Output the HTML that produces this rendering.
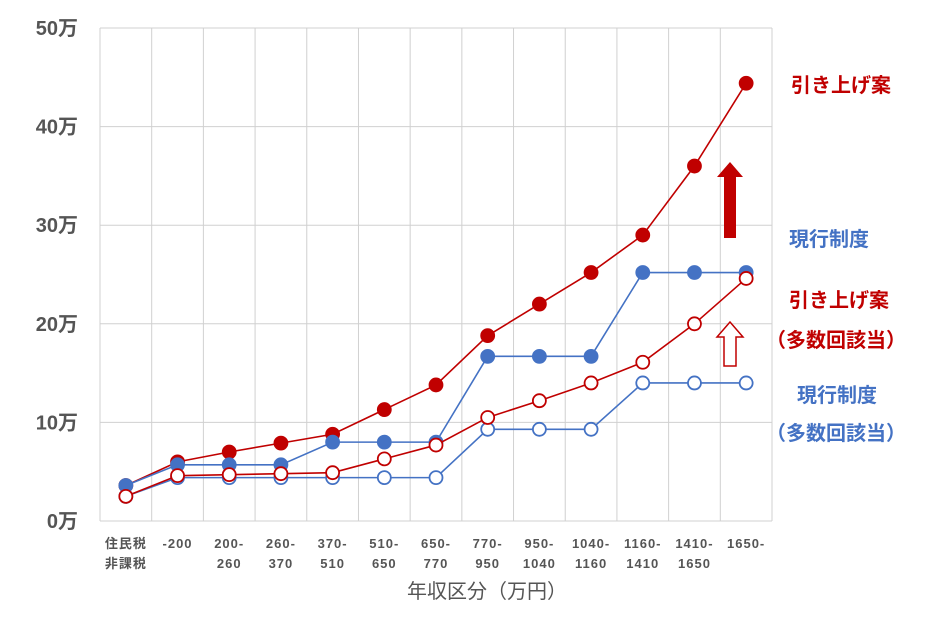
<!DOCTYPE html>
<html><head><meta charset="utf-8"><style>
body{margin:0;background:#fff;}
svg{display:block;font-family:"Liberation Sans","Noto Sans CJK JP",sans-serif;}
</style></head><body>
<svg id="chart" width="948" height="627"></svg>
<script>
const categories=[["住民税","非課税"],["-200",""],["200-","260"],["260-","370"],["370-","510"],["510-","650"],["650-","770"],["770-","950"],["950-","1040"],["1040-","1160"],["1160-","1410"],["1410-","1650"],["1650-",""]];
const raisePlan=[3.6,6.0,7.0,7.9,8.8,11.3,13.8,18.8,22.0,25.2,29.0,36.0,44.4];
const currentSystem=[3.6,5.7,5.7,5.7,8.0,8.0,8.0,16.7,16.7,16.7,25.2,25.2,25.2];
const raisePlanMulti=[2.5,4.6,4.7,4.8,4.9,6.3,7.7,10.5,12.2,14.0,16.1,20.0,24.6];
const currentMulti=[2.5,4.4,4.4,4.4,4.4,4.4,4.4,9.3,9.3,9.3,14.0,14.0,14.0];
const yTicks=[0,10,20,30,40,50];
const NS="http://www.w3.org/2000/svg";
const svg=document.getElementById('chart');
const L=100,R=772,T=28,B=521,yMax=50;
const bw=(R-L)/categories.length;
const x=i=>L+bw*(i+0.5);
const y=v=>B-(v/yMax)*(B-T);
function mk(tag,attrs,parent){const e=document.createElementNS(NS,tag);for(const k in attrs)e.setAttribute(k,attrs[k]);(parent||svg).appendChild(e);return e;}
const grid=mk('g',{});


yTicks.forEach(t=>{
 const ln=mk('line',{x1:L,x2:R,y1:y(t),y2:y(t),stroke:'#d0d0d0','stroke-width':1},grid);
 
 
 const tx=mk('text',{x:78,y:y(t)+7,'text-anchor':'end','font-size':20,'font-weight':'bold',fill:'#555'});
 tx.textContent=t+'万';
 
 
});
for(let i=0;i<=categories.length;i++){
 const ln=mk('line',{x1:L+bw*i,x2:L+bw*i,y1:T,y2:B,stroke:'#d0d0d0','stroke-width':1},grid);
 
 
}
categories.forEach((c,i)=>{
 c.forEach((s,j)=>{ if(!s)return;
  const tx=mk('text',{x:x(i),y:548+j*20,'text-anchor':'middle','font-size':13,'font-weight':'bold',fill:'#555','letter-spacing':'1'});
  tx.textContent=s;
  
  
 });
});
const at=mk('text',{x:487,y:598,'text-anchor':'middle','font-size':20,fill:'#555'});
at.textContent='年収区分（万円）';


function series(vals,color,filled,name){
 const g=mk('g',{});
 
 
 const p=mk('polyline',{points:vals.map((v,i)=>x(i)+','+y(v)).join(' '),fill:'none',stroke:color,'stroke-width':1.6},g);
 
 
 vals.forEach((v,i)=>{
  const c=mk('circle',{cx:x(i),cy:y(v),r:6.5,fill:filled?color:'#fff',stroke:color,'stroke-width':1.8},g);
  
  
 });
}
series(raisePlan,'#c00000',true,'raise-series');
series(currentSystem,'#4472c4',true,'current-series');
series(currentMulti,'#4472c4',false,'current-multi-series');
series(raisePlanMulti,'#c00000',false,'raise-multi-series');
function lbl(t,xx,yy,color,name){const e=mk('text',{x:xx,y:yy,'font-size':20,'font-weight':'bold',fill:color});e.textContent=t;}
lbl('引き上げ案',791,92,'#c00000','label-raise');
lbl('現行制度',789,246,'#4472c4','label-current');
lbl('引き上げ案',789,307,'#c00000','label-raise-multi');
lbl('（多数回該当）',766,347,'#c00000','label-raise-multi-sub');
lbl('現行制度',797,402,'#4472c4','label-current-multi');
lbl('（多数回該当）',766,440,'#4472c4','label-current-multi-sub');
const a1=mk('polygon',{points:'724,238 736,238 736,177 743,177 730,162 717,177 724,177',fill:'#c00000'});


const a2=mk('polygon',{points:'724,366 736,366 736,337 743,337 730,322 717,337 724,337',fill:'#fff',stroke:'#c00000','stroke-width':1.5});


</script>
</body></html>
